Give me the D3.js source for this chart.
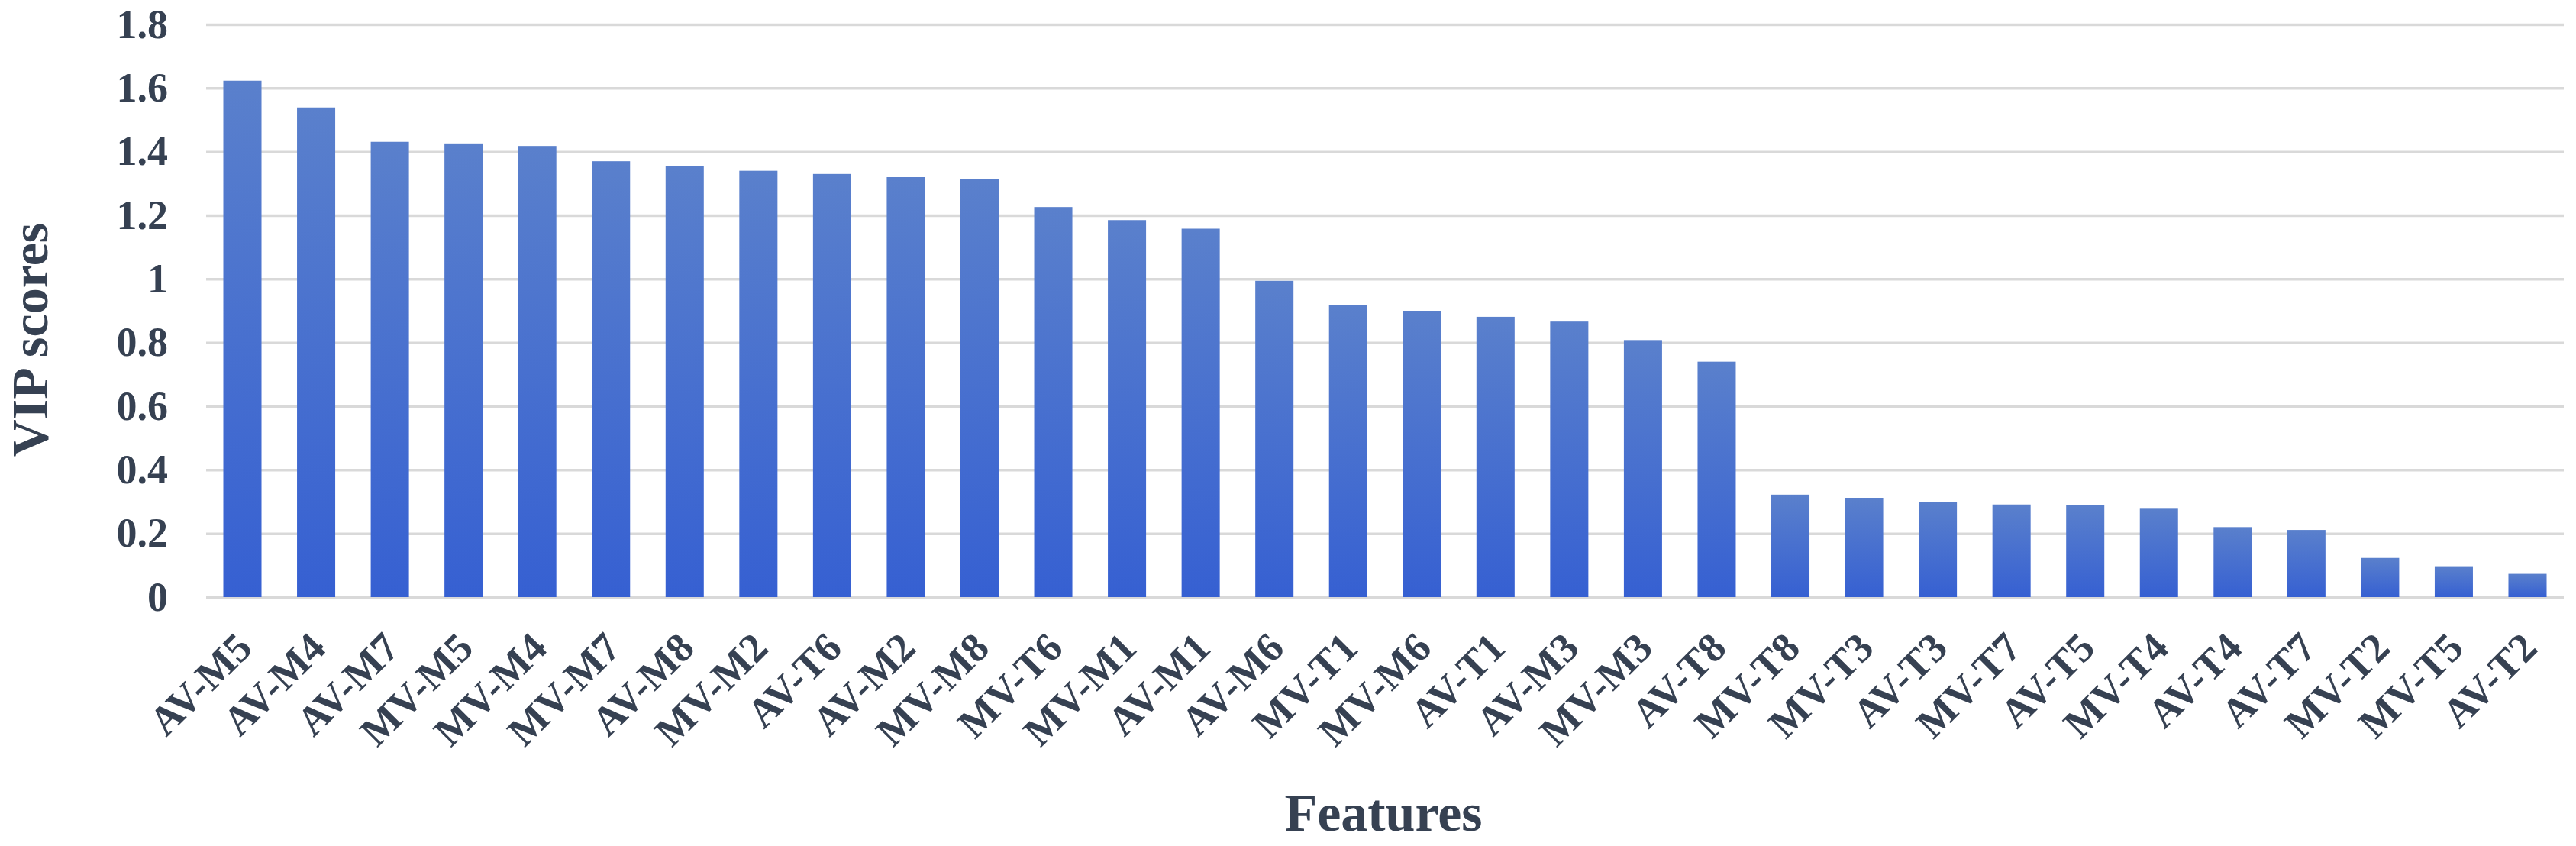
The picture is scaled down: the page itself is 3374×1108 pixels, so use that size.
<!DOCTYPE html>
<html>
<head>
<meta charset="utf-8">
<script src="https://cdn.jsdelivr.net/npm/d3@7"></script>
<style>
  html, body { margin: 0; padding: 0; background: #ffffff; }
  svg { display: block; }
</style>
</head>
<body>
<script>
const categories = ["AV-M5","AV-M4","AV-M7","MV-M5","MV-M4","MV-M7","AV-M8","MV-M2","AV-T6","AV-M2","MV-M8","MV-T6","MV-M1","AV-M1","AV-M6","MV-T1","MV-M6","AV-T1","AV-M3","MV-M3","AV-T8","MV-T8","MV-T3","AV-T3","MV-T7","AV-T5","MV-T4","AV-T4","AV-T7","MV-T2","MV-T5","AV-T2"];
const vipScores = [1.623,1.539,1.431,1.426,1.418,1.370,1.355,1.340,1.330,1.320,1.313,1.226,1.185,1.158,0.994,0.917,0.900,0.881,0.866,0.808,0.740,0.322,0.312,0.300,0.291,0.289,0.280,0.220,0.211,0.123,0.097,0.073];
const yTicks = [0,0.2,0.4,0.6,0.8,1.0,1.2,1.4,1.6,1.8];
const yTickLabels = ["0","0.2","0.4","0.6","0.8","1","1.2","1.4","1.6","1.8"];
const yTitle = "VIP scores";
const xTitle = "Features";

(function () {
const W = 3374, H = 1108;
const mLeft = 270, mRight = 3358, mTop = 32, mBottom = 782;
const textColor = "#364152";
const font = "'Liberation Serif', 'Times New Roman', serif";

const svg = d3.select("body").append("svg").attr("width", W).attr("height", H);

const defs = svg.append("defs");
const grad = defs.append("linearGradient").attr("id", "barGrad")
  .attr("x1", 0).attr("y1", 0).attr("x2", 0).attr("y2", 1);
grad.append("stop").attr("offset", "0%").attr("stop-color", "#5a80cc");
grad.append("stop").attr("offset", "100%").attr("stop-color", "#3660d2");

const x = d3.scaleBand().domain(categories).range([mLeft, mRight])
  .paddingInner(0.482).paddingOuter(0.233);
const y = d3.scaleLinear().domain([0, 1.8]).range([mBottom, mTop]);

// Y axis with gridlines
const yAxis = svg.append("g").attr("transform", `translate(${mLeft},0)`)
  .call(d3.axisLeft(y).tickValues(yTicks)
    .tickSize(-(mRight - mLeft)).tickPadding(50)
    .tickFormat((d, i) => yTickLabels[i]));
yAxis.select(".domain").remove();
yAxis.selectAll(".tick line").attr("stroke", "#d9d9d9").attr("stroke-width", 3.5);
yAxis.selectAll(".tick text")
  .attr("fill", textColor).attr("font-family", font)
  .attr("font-weight", "bold").attr("font-size", 54);

// Bars
svg.append("g").selectAll("rect").data(categories).join("rect")
  .attr("x", d => x(d))
  .attr("width", x.bandwidth())
  .attr("y", (d, i) => y(vipScores[i]))
  .attr("height", (d, i) => y(0) - y(vipScores[i]))
  .attr("fill", "url(#barGrad)");

// X axis labels
const xAxis = svg.append("g").attr("transform", `translate(0,${mBottom})`)
  .call(d3.axisBottom(x).tickSize(0));
xAxis.select(".domain").remove();
xAxis.selectAll(".tick text")
  .attr("x", 0).attr("y", 0).attr("dy", "0.35em")
  .attr("text-anchor", "end")
  .attr("transform", "translate(2,56) rotate(-45)")
  .attr("fill", textColor).attr("font-family", font)
  .attr("font-weight", "bold").attr("font-size", 54);

// Axis titles
svg.append("text")
  .attr("transform", `translate(62,445) rotate(-90)`)
  .attr("text-anchor", "middle")
  .attr("fill", textColor).attr("font-family", font)
  .attr("font-weight", "bold").attr("font-size", 68)
  .text(yTitle);

svg.append("text")
  .attr("x", 1812).attr("y", 1088)
  .attr("text-anchor", "middle")
  .attr("fill", textColor).attr("font-family", font)
  .attr("font-weight", "bold").attr("font-size", 70)
  .text(xTitle);
})();
</script>
</body>
</html>
